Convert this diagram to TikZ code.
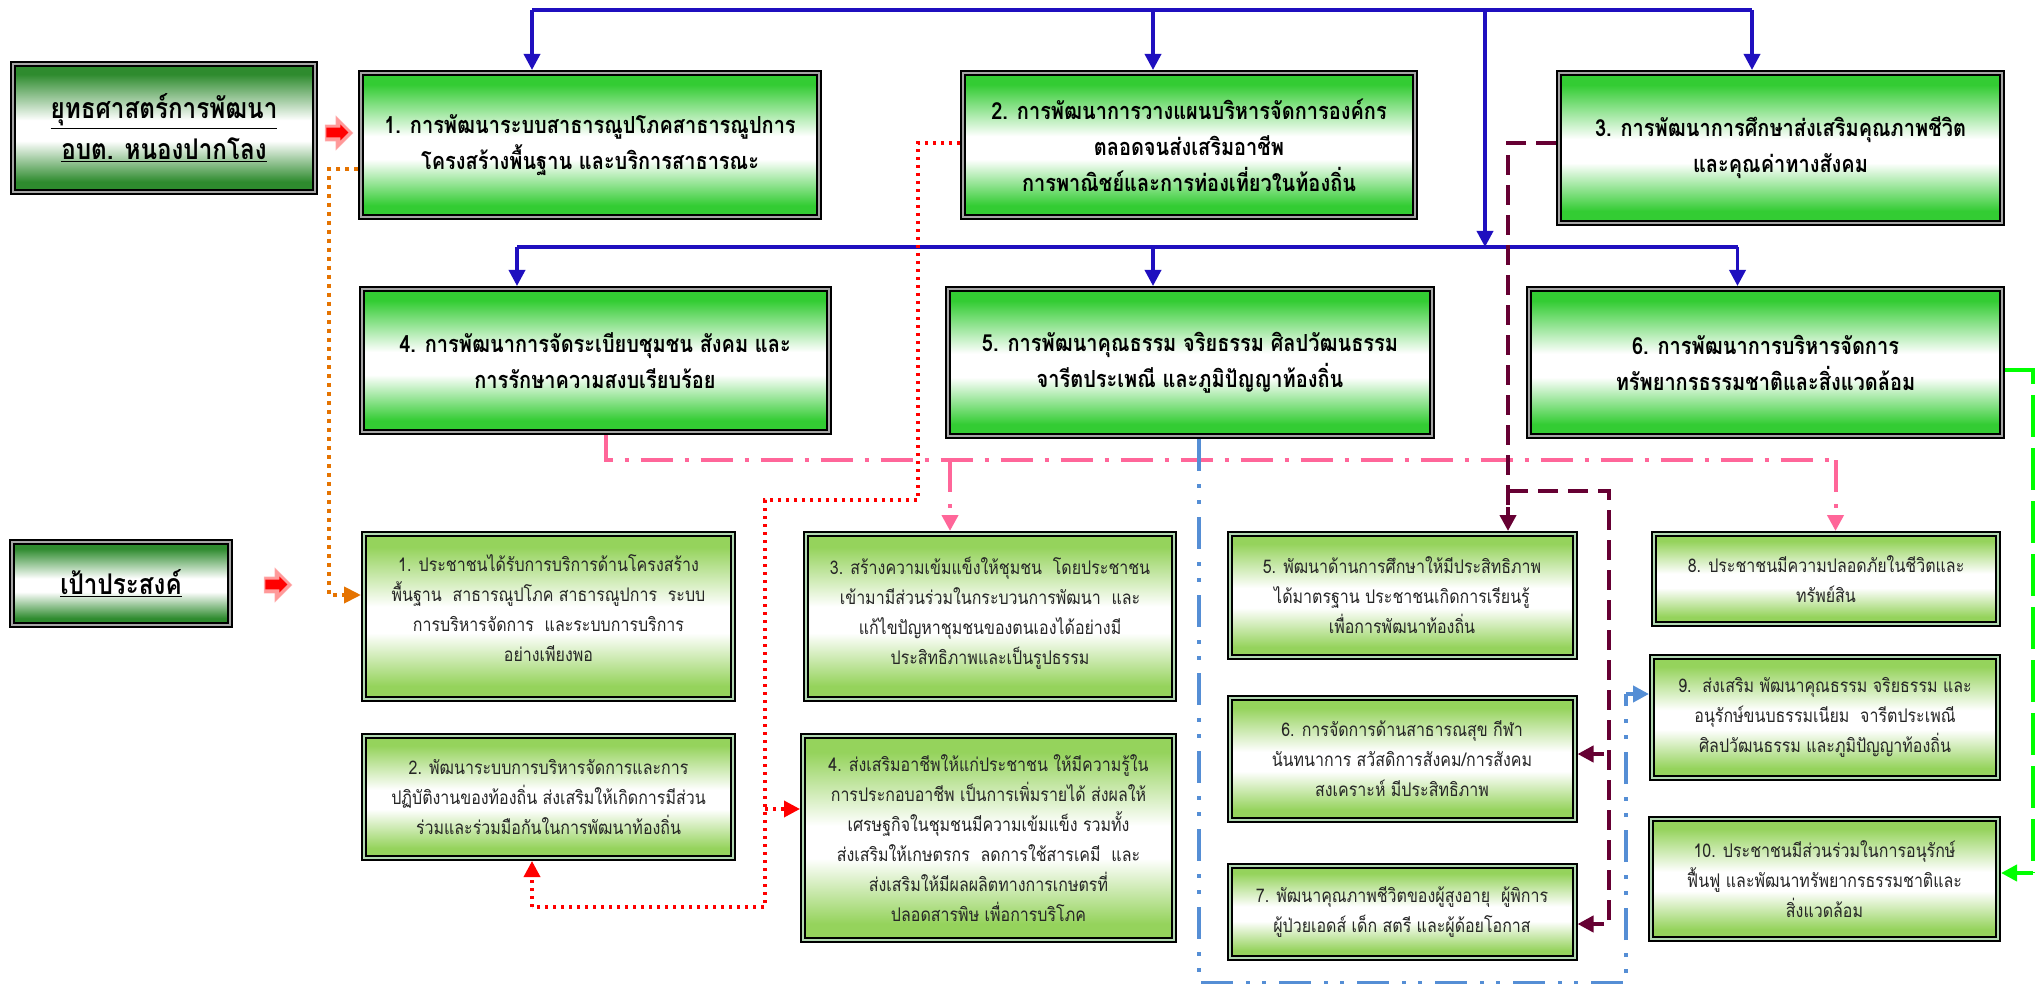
\documentclass[tikz,border=0pt]{standalone}
\usepackage{fontspec}
\newfontfamily\thaifont[Script=Thai,FakeStretch=0.85]{Loma}
\usetikzlibrary{arrows.meta,shapes.arrows}
\definecolor{headgreen}{HTML}{2E8B2E}
\definecolor{stratgreen}{HTML}{33CC33}
\definecolor{goalgreen}{HTML}{95D35C}
\definecolor{busblue}{HTML}{1F0FBF}
\definecolor{pinkdash}{HTML}{FF6699}
\definecolor{maroonline}{HTML}{660033}
\definecolor{skydash}{HTML}{558ED5}
\pgfdeclareverticalshading{headshade}{100bp}{color(0bp)=(headgreen);color(29bp)=(headgreen);color(45bp)=(white);color(53bp)=(white);color(71bp)=(headgreen);color(100bp)=(headgreen)}
\pgfdeclareverticalshading{stratshade}{100bp}{color(0bp)=(stratgreen);color(29bp)=(stratgreen);color(45bp)=(white);color(53bp)=(white);color(71bp)=(stratgreen);color(100bp)=(stratgreen)}
\pgfdeclareverticalshading{goalshade}{100bp}{color(0bp)=(goalgreen);color(29bp)=(goalgreen);color(45bp)=(white);color(53bp)=(white);color(71bp)=(goalgreen);color(100bp)=(goalgreen)}
\tikzset{
  size/.style 2 args={minimum width=#1pt,minimum height=#2pt},
  basebox/.style={draw=black,double,line width=2pt,double distance=2pt,outer sep=3pt,inner sep=0pt,align=center},
  headbox/.style={basebox,double=black!35,shade,shading=headshade,font=\thaifont\bfseries\fontsize{28.5}{41}\selectfont},
  stratbox/.style={basebox,double=black!35,shade,shading=stratshade,font=\thaifont\bfseries\fontsize{23.5}{36}\selectfont},
  goalbox/.style={basebox,double=green!50!black!30,shade,shading=goalshade,text=black!85,font=\thaifont\fontsize{18.8}{30}\selectfont},
  bigtip/.style={-{Triangle[length=16pt,width=16pt]}},
  bluebus/.style={color=busblue,line width=4pt},
  bluearrow/.style={color=busblue,line width=3.5pt,bigtip},
  orangedot/.style={color=orange!90!black,line width=4pt,dash pattern=on 4pt off 5pt,-{Triangle[length=17pt,width=16pt]}},
  reddot/.style={color=red,line width=3.5pt,dash pattern=on 3pt off 5pt},
  pinkline/.style={color=pinkdash,line width=4pt,dash pattern=on 32pt off 12pt on 4pt off 12pt},
  maroonline/.style={color=maroonline,line width=4pt,dash pattern=on 20pt off 10pt},
  skyline/.style={color=skydash,line width=4pt,dash pattern=on 32pt off 13pt on 4pt off 12pt on 4pt off 13pt},
  limeline/.style={color=green,line width=4pt,dash pattern=on 42pt off 11pt},
  shadowarrow/.style={single arrow,fill=red!40,draw=red!25,minimum height=28pt,minimum width=34pt,inner sep=8pt,single arrow head extend=9pt},
  redarrow/.style={single arrow,fill=red,minimum height=22pt,minimum width=16pt,inner sep=3pt,single arrow head extend=2pt}
}
\begin{document}
\begin{tikzpicture}[x=1pt,y=-1pt]
    \useasboundingbox (0,0) rectangle (2042,984);

    % กล่องหัวข้อ
    \node[headbox,size={302}{128}] (strat) at (164,128) {\underline{ยุทธศาสตร์การพัฒนา}\\\underline{อบต. หนองปากโลง}};
    \node[headbox,size={218}{83}] (goal) at (121,583.5) {\underline{เป้าประสงค์}};

    % ยุทธศาสตร์ 1-6
    \node[stratbox,size={457.5}{144}] (S1) at (590,145) {1. การพัฒนาระบบสาธารณูปโภคสาธารณูปการ\\โครงสร้างพื้นฐาน และบริการสาธารณะ};
    \node[stratbox,size={452}{144}] (S2) at (1189,145) {2. การพัฒนาการวางแผนบริหารจัดการองค์กร\\ตลอดจนส่งเสริมอาชีพ\\การพาณิชย์และการท่องเที่ยวในท้องถิ่น};
    \node[stratbox,size={443}{150}] (S3) at (1780.5,148) {3. การพัฒนาการศึกษาส่งเสริมคุณภาพชีวิต\\และคุณค่าทางสังคม};
    \node[stratbox,size={467}{143}] (S4) at (595,360.5) {4. การพัฒนาการจัดระเบียบชุมชน สังคม และ\\การรักษาความสงบเรียบร้อย};
    \node[stratbox,size={484}{147}] (S5) at (1190,362.5) {5. การพัฒนาคุณธรรม จริยธรรม ศิลปวัฒนธรรม\\จารีตประเพณี และภูมิปัญญาท้องถิ่น};
    \node[stratbox,size={473}{147}] (S6) at (1765.5,362.5) {6. การพัฒนาการบริหารจัดการ\\ทรัพยากรธรรมชาติและสิ่งแวดล้อม};

    % เป้าประสงค์ 1-10
    \node[goalbox,size={369}{165},text depth=16pt] (G1) at (548.5,616.5) {1. ประชาชนได้รับการบริการด้านโครงสร้าง\\พื้นฐาน~~สาธารณูปโภค สาธารณูปการ~~ระบบ\\การบริหารจัดการ~~และระบบการบริการ\\อย่างเพียงพอ};
    \node[goalbox,size={369}{122}] (G2) at (548.5,797) {2. พัฒนาระบบการบริหารจัดการและการ\\ปฏิบัติงานของท้องถิ่น ส่งเสริมให้เกิดการมีส่วน\\ร่วมและร่วมมือกันในการพัฒนาท้องถิ่น};
    \node[goalbox,size={368}{165},text depth=12pt] (G3) at (990,616.5) {3. สร้างความเข้มแข็งให้ชุมชน~~โดยประชาชน\\เข้ามามีส่วนร่วมในกระบวนการพัฒนา~~และ\\แก้ไขปัญหาชุมชนของตนเองได้อย่างมี\\ประสิทธิภาพและเป็นรูปธรรม};
    \node[goalbox,size={371}{204}] (G4) at (988.5,838) {4. ส่งเสริมอาชีพให้แก่ประชาชน ให้มีความรู้ใน\\การประกอบอาชีพ เป็นการเพิ่มรายได้ ส่งผลให้\\เศรษฐกิจในชุมชนมีความเข้มแข็ง รวมทั้ง\\ส่งเสริมให้เกษตรกร~~ลดการใช้สารเคมี~~และ\\ส่งเสริมให้มีผลผลิตทางการเกษตรที่\\ปลอดสารพิษ เพื่อการบริโภค};
    \node[goalbox,size={345}{123}] (G5) at (1402,595.5) {5. พัฒนาด้านการศึกษาให้มีประสิทธิภาพ\\ได้มาตรฐาน ประชาชนเกิดการเรียนรู้\\เพื่อการพัฒนาท้องถิ่น};
    \node[goalbox,size={345}{122}] (G6) at (1402,759) {6. การจัดการด้านสาธารณสุข กีฬา\\นันทนาการ สวัสดิการสังคม/การสังคม\\สงเคราะห์ มีประสิทธิภาพ};
    \node[goalbox,size={345}{92}] (G7) at (1402,912) {7. พัฒนาคุณภาพชีวิตของผู้สูงอายุ~~ผู้พิการ\\ผู้ป่วยเอดส์ เด็ก สตรี และผู้ด้อยโอกาส};
    \node[goalbox,size={344}{90}] (G8) at (1826,579) {8. ประชาชนมีความปลอดภัยในชีวิตและ\\ทรัพย์สิน};
    \node[goalbox,size={346}{121}] (G9) at (1825,717.5) {9.~~ส่งเสริม พัฒนาคุณธรรม จริยธรรม และ\\อนุรักษ์ขนบธรรมเนียม~~จารีตประเพณี\\ศิลปวัฒนธรรม และภูมิปัญญาท้องถิ่น};
    \node[goalbox,size={347}{120}] (G10) at (1824.5,879) {10. ประชาชนมีส่วนร่วมในการอนุรักษ์\\ฟื้นฟู และพัฒนาทรัพยากรธรรมชาติและ\\สิ่งแวดล้อม};

    % ลูกศรแดง
    \node[shadowarrow] (shadeA) at (335,133) {};
    \node[redarrow] (redA) at (335,132.5) {};
    \node[shadowarrow] (shadeB) at (274,585) {};
    \node[redarrow] (redB) at (274,584.5) {};

    % เส้นน้ำเงิน
    \coordinate (topL) at (532,10);
    \coordinate (topM) at (1153,10);
    \coordinate (trunk) at (1485,10);
    \coordinate (topR) at (1752,10);
    \coordinate (midL) at (517,247);
    \coordinate (midM) at (1153,247);
    \coordinate (midC) at (1485,247);
    \coordinate (midR) at (1737.5,247);
    \draw[bluebus] (topL) -- (topR);
    \draw[bluebus] (midL) -- (midR);
    \draw[bluearrow] (topL) -- (topL |- S1.north);
    \draw[bluearrow] (topM) -- (topM |- S2.north);
    \draw[bluearrow] (topR) -- (topR |- S3.north);
    \draw[bluearrow] (trunk) -- (midC);
    \draw[bluearrow] (midL) -- (midL |- S4.north);
    \draw[bluearrow] (midM) -- (midM |- S5.north);
    \draw[bluearrow] (midR) -- (midR |- S6.north);

    % จุดส้ม
    \coordinate (orA) at (329,169);
    \coordinate (orB) at (329,595);
    \draw[orangedot] (orA -| S1.west) -- (orA) -- (orB) -- (orB -| G1.west);

    % จุดแดง
    \coordinate (rdA) at (918,143);
    \coordinate (rdB) at (918,500);
    \coordinate (rdC) at (765,500);
    \coordinate (rdD) at (765,907);
    \coordinate (rdE) at (532,907);
    \coordinate (rdF) at (765,809);
    \draw[reddot] (rdA -| S2.west) -- (rdA) -- (rdB) -- (rdC) -- (rdD) -- (rdE);
    \draw[reddot,bigtip] (rdE) -- (rdE |- G2.south);
    \draw[reddot,bigtip] (rdF) -- (rdF -| G4.west);

    % เส้นชมพู
    \coordinate (pkA) at (605.5,460);
    \coordinate (pkB) at (950,460);
    \coordinate (pkC) at (1835.5,460);
    \draw[pinkline] (pkA |- S4.south) -- (pkA) -- (pkC);
    \draw[pinkline,bigtip] (pkC) -- (pkC |- G8.north);
    \draw[pinkline,bigtip] (pkB) -- (pkB |- G3.north);

    % เส้นม่วงแดง
    \coordinate (mrA) at (1508,143);
    \coordinate (mrB) at (1508,491);
    \coordinate (mrC) at (1609,491);
    \coordinate (mrE) at (1609,924);
    \coordinate (mrG) at (1508,507);
    \coordinate (mrH) at (1604,754);
    \coordinate (mrI) at (1604,924);
    \draw[maroonline] (mrA -| S3.west) -- (mrA) -- (mrG);
    \draw[maroonline,solid,bigtip] (mrG) -- (mrG |- G5.north);
    \draw[maroonline] (mrB) -- (mrC) -- (mrE);
    \draw[maroonline,solid,bigtip] (mrH) -- (mrH -| G6.east);
    \draw[maroonline,solid,bigtip] (mrI) -- (mrI -| G7.east);

    % เส้นฟ้า
    \coordinate (skA) at (1199,983);
    \coordinate (skB) at (1626,983);
    \coordinate (skC) at (1626,694);
    \draw[skyline] (skA |- S5.south) -- (skA) -- (skB) -- (skC);
    \draw[skyline,solid,bigtip] (skC) -- (skC -| G9.west);

    % เส้นเขียว
    \coordinate (lmA) at (2033,370);
    \coordinate (lmB) at (2033,873);
    \draw[limeline] (lmA -| S6.east) -- (lmA) -- (lmB);
    \draw[limeline,solid,bigtip] (lmB) -- (lmB -| G10.east);
\end{tikzpicture}
\end{document}
